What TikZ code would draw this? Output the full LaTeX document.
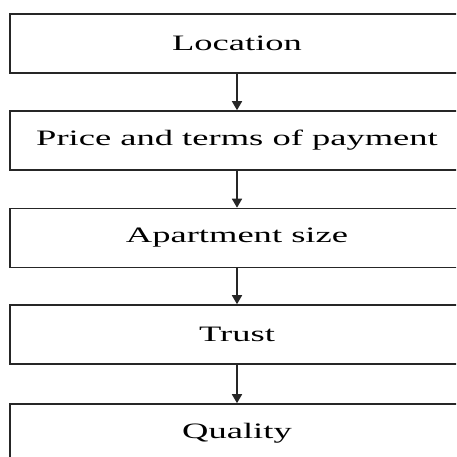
\documentclass[tikz,border=0pt]{standalone}
\usepackage{fontspec}
\setmainfont{Liberation Serif}
\usetikzlibrary{arrows.meta}
\begin{document}
\begin{tikzpicture}[x=1pt,y=1pt,
  stagebox/.style={draw=black!85, line width=1.6pt, fill=white,
    minimum width=454pt, minimum height=59pt, inner sep=0pt,
    font=\fontsize{22}{26}\selectfont},
  flow/.style={draw=black!85, line width=1.6pt,
    -{Triangle[length=9pt,width=10pt]}}]
  \useasboundingbox (0,0) rectangle (456,-457);
  \clip (0,0) rectangle (456,-457);
  \fill[white] (0,0) rectangle (456,-457);
  \node[stagebox] (loc)     at (237,-43.5)  {\scalebox{1.66}[1]{Location}};
  \node[stagebox] (price)   at (237,-140.5) {\scalebox{1.66}[1]{Price and terms of payment}};
  \node[stagebox] (size)    at (237,-238)   {\scalebox{1.66}[1]{Apartment size}};
  \node[stagebox] (trust)   at (237,-334.5) {\scalebox{1.66}[1]{Trust}};
  \node[stagebox] (quality) at (237,-433.5) {\scalebox{1.66}[1]{Quality}};
  \draw[flow] (loc)   -- (price);
  \draw[flow] (price) -- (size);
  \draw[flow] (size)  -- (trust);
  \draw[flow] (trust) -- (quality);
\end{tikzpicture}
\end{document}
